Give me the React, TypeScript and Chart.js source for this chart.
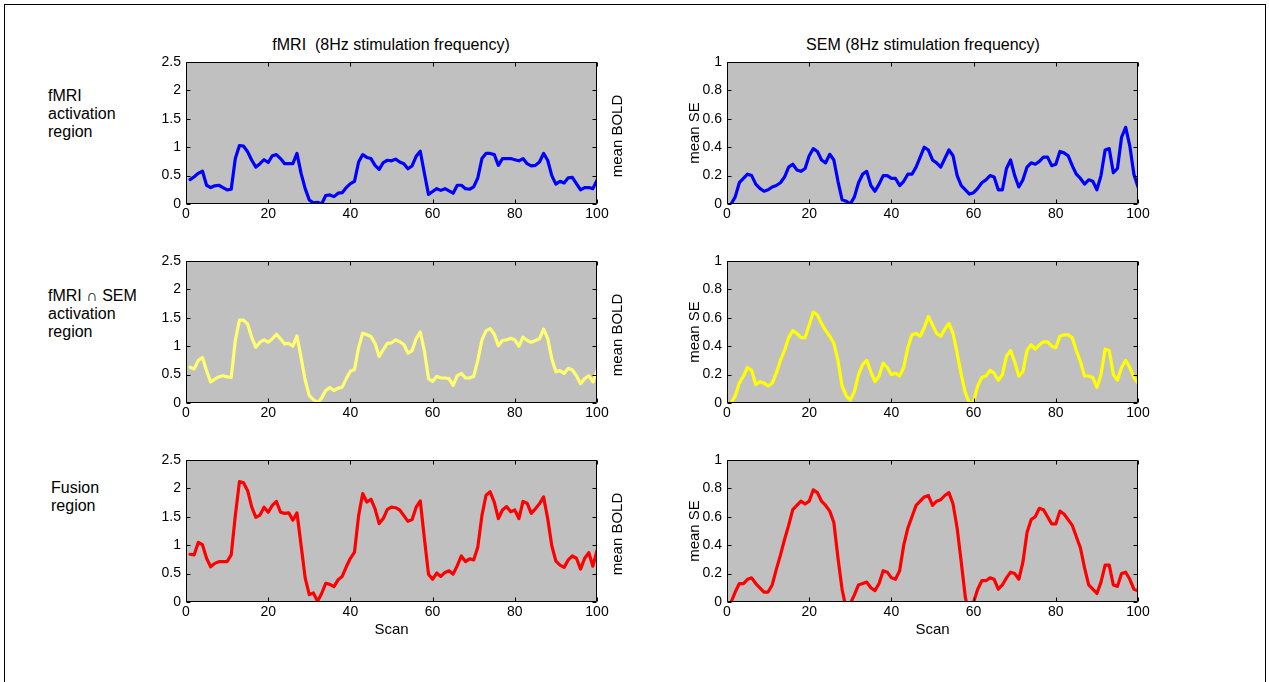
import { useEffect, useRef } from "react";
import { Chart, registerables } from "chart.js";

Chart.register(...registerables);

const FONT = "'Liberation Sans', Arial, Helvetica, sans-serif";

// Scan index (x axis categories)
const SCANS = Array.from({ length: 100 }, (_, i) => i + 1);

// Tick labels
const SCAN_TICKS = [0, 20, 40, 60, 80, 100];
const BOLD_TICKS = [0, 0.5, 1, 1.5, 2, 2.5];
const SE_TICKS = [0, 0.2, 0.4, 0.6, 0.8, 1];

// fMRI activation region
const FMRI_BOLD = [
  0.43, 0.48, 0.54, 0.58, 0.33, 0.29, 0.32, 0.33, 0.29, 0.25,
  0.26, 0.80, 1.03, 1.02, 0.92, 0.77, 0.65, 0.71, 0.78, 0.73,
  0.85, 0.87, 0.80, 0.71, 0.71, 0.71, 0.89, 0.54, 0.27, 0.07,
  0.02, 0.03, 0.00, 0.15, 0.16, 0.13, 0.19, 0.20, 0.29, 0.36,
  0.40, 0.74, 0.87, 0.82, 0.80, 0.68, 0.61, 0.73, 0.77, 0.76,
  0.79, 0.74, 0.71, 0.62, 0.67, 0.84, 0.93, 0.54, 0.17, 0.22,
  0.27, 0.24, 0.27, 0.23, 0.19, 0.33, 0.33, 0.27, 0.26, 0.30,
  0.46, 0.80, 0.89, 0.89, 0.87, 0.68, 0.80, 0.80, 0.80, 0.78,
  0.76, 0.80, 0.71, 0.67, 0.68, 0.74, 0.89, 0.77, 0.50, 0.35,
  0.40, 0.37, 0.46, 0.47, 0.36, 0.25, 0.29, 0.29, 0.27, 0.42,
];
const FMRI_SE = [
  0.00, 0.05, 0.15, 0.18, 0.21, 0.20, 0.14, 0.11, 0.09, 0.10,
  0.12, 0.13, 0.15, 0.19, 0.26, 0.28, 0.24, 0.23, 0.25, 0.34,
  0.39, 0.37, 0.31, 0.29, 0.35, 0.31, 0.16, 0.03, 0.02, 0.00,
  0.05, 0.15, 0.21, 0.23, 0.13, 0.09, 0.14, 0.20, 0.20, 0.18,
  0.18, 0.13, 0.16, 0.21, 0.21, 0.26, 0.33, 0.40, 0.38, 0.31,
  0.29, 0.26, 0.32, 0.38, 0.34, 0.20, 0.13, 0.10, 0.07, 0.08,
  0.11, 0.15, 0.17, 0.20, 0.19, 0.10, 0.10, 0.25, 0.31, 0.20,
  0.12, 0.17, 0.26, 0.29, 0.28, 0.30, 0.33, 0.33, 0.27, 0.28,
  0.37, 0.36, 0.34, 0.27, 0.21, 0.18, 0.14, 0.17, 0.16, 0.10,
  0.20, 0.38, 0.39, 0.22, 0.25, 0.47, 0.54, 0.41, 0.21, 0.12,
];

// fMRI ∩ SEM activation region
const INTER_BOLD = [
  0.63, 0.60, 0.75, 0.80, 0.57, 0.37, 0.42, 0.46, 0.48, 0.46,
  0.45, 1.10, 1.46, 1.46, 1.39, 1.15, 0.98, 1.07, 1.11, 1.07,
  1.13, 1.21, 1.13, 1.04, 1.05, 1.00, 1.18, 0.80, 0.40, 0.13,
  0.06, 0.00, 0.09, 0.22, 0.27, 0.22, 0.26, 0.28, 0.43, 0.56,
  0.59, 0.98, 1.23, 1.20, 1.17, 1.05, 0.82, 0.94, 1.05, 1.06,
  1.11, 1.08, 1.03, 0.88, 0.92, 1.13, 1.25, 0.92, 0.43, 0.38,
  0.47, 0.44, 0.44, 0.43, 0.31, 0.48, 0.52, 0.44, 0.44, 0.47,
  0.75, 1.11, 1.27, 1.31, 1.21, 1.01, 1.10, 1.11, 1.14, 1.11,
  1.00, 1.16, 1.10, 1.07, 1.10, 1.13, 1.30, 1.14, 0.78, 0.55,
  0.57, 0.52, 0.61, 0.58, 0.48, 0.34, 0.43, 0.48, 0.37, 0.56,
];
const INTER_SE = [
  0.00, 0.05, 0.14, 0.19, 0.25, 0.23, 0.13, 0.15, 0.14, 0.12,
  0.14, 0.21, 0.30, 0.37, 0.46, 0.51, 0.49, 0.46, 0.46, 0.55,
  0.64, 0.62, 0.56, 0.51, 0.47, 0.42, 0.30, 0.12, 0.05, 0.02,
  0.08, 0.20, 0.27, 0.30, 0.22, 0.15, 0.19, 0.28, 0.25, 0.20,
  0.21, 0.19, 0.25, 0.39, 0.48, 0.49, 0.47, 0.53, 0.61, 0.55,
  0.49, 0.47, 0.52, 0.56, 0.49, 0.35, 0.20, 0.07, 0.00, 0.01,
  0.12, 0.18, 0.19, 0.23, 0.21, 0.16, 0.20, 0.33, 0.37, 0.29,
  0.19, 0.22, 0.37, 0.41, 0.38, 0.41, 0.43, 0.43, 0.40, 0.39,
  0.47, 0.48, 0.48, 0.46, 0.37, 0.29, 0.19, 0.19, 0.18, 0.11,
  0.20, 0.38, 0.37, 0.20, 0.16, 0.25, 0.30, 0.25, 0.18, 0.14,
];

// Fusion region
const FUSION_BOLD = [
  0.84, 0.83, 1.05, 1.01, 0.77, 0.62, 0.68, 0.71, 0.71, 0.71,
  0.83, 1.52, 2.12, 2.10, 1.96, 1.67, 1.49, 1.53, 1.67, 1.58,
  1.70, 1.77, 1.58, 1.56, 1.57, 1.44, 1.57, 1.00, 0.42, 0.13,
  0.16, 0.01, 0.15, 0.33, 0.31, 0.27, 0.39, 0.45, 0.62, 0.77,
  0.88, 1.52, 1.91, 1.76, 1.81, 1.64, 1.38, 1.47, 1.63, 1.67,
  1.66, 1.62, 1.52, 1.42, 1.45, 1.67, 1.78, 1.12, 0.49, 0.40,
  0.51, 0.45, 0.52, 0.55, 0.49, 0.64, 0.81, 0.71, 0.76, 0.74,
  0.97, 1.52, 1.88, 1.94, 1.76, 1.47, 1.62, 1.68, 1.59, 1.62,
  1.47, 1.77, 1.74, 1.56, 1.64, 1.73, 1.85, 1.47, 0.99, 0.72,
  0.65, 0.61, 0.74, 0.81, 0.77, 0.58, 0.77, 0.87, 0.63, 0.91,
];
const FUSION_SE = [
  0.00, 0.07, 0.13, 0.13, 0.16, 0.17, 0.13, 0.10, 0.07, 0.07,
  0.12, 0.23, 0.33, 0.44, 0.54, 0.65, 0.68, 0.71, 0.69, 0.71,
  0.79, 0.77, 0.71, 0.68, 0.64, 0.56, 0.31, 0.09, -0.05, -0.01,
  0.05, 0.12, 0.13, 0.14, 0.10, 0.08, 0.13, 0.22, 0.21, 0.17,
  0.16, 0.22, 0.40, 0.52, 0.60, 0.68, 0.71, 0.74, 0.75, 0.68,
  0.71, 0.72, 0.75, 0.77, 0.69, 0.52, 0.28, 0.03, -0.09, 0.00,
  0.09, 0.15, 0.15, 0.17, 0.16, 0.09, 0.12, 0.17, 0.21, 0.20,
  0.16, 0.28, 0.49, 0.58, 0.60, 0.66, 0.65, 0.60, 0.55, 0.55,
  0.64, 0.62, 0.58, 0.54, 0.46, 0.38, 0.24, 0.12, 0.09, 0.06,
  0.14, 0.26, 0.26, 0.12, 0.11, 0.20, 0.21, 0.16, 0.09, 0.08,
];

// Gray axes background, black box and inward tick marks (MATLAB-like axes)
const axesBoxPlugin = {
  id: "axesBox",
  beforeDatasetsDraw(chart: any) {
    const { ctx, chartArea: a } = chart;
    ctx.save();
    ctx.fillStyle = "#c0c0c0";
    ctx.fillRect(a.left, a.top, a.right - a.left, a.bottom - a.top);
    ctx.restore();
  },
  afterDatasetsDraw(chart: any) {
    const { ctx, chartArea: a, scales } = chart;
    const L = Math.round(a.left) + 0.5;
    const R = Math.round(a.right) - 0.5;
    const T = Math.round(a.top) + 0.5;
    const B = Math.round(a.bottom) - 0.5;
    const len = 4;
    ctx.save();
    ctx.strokeStyle = "#000";
    ctx.lineWidth = 1;
    ctx.beginPath();
    ctx.rect(L, T, R - L, B - T);
    for (const t of scales.x.ticks) {
      const px = Math.round(scales.x.getPixelForValue(t.value)) + 0.5;
      ctx.moveTo(px, B);
      ctx.lineTo(px, B - len);
      ctx.moveTo(px, T);
      ctx.lineTo(px, T + len);
    }
    for (const t of scales.y.ticks) {
      const py = Math.round(scales.y.getPixelForValue(t.value)) + 0.5;
      ctx.moveTo(L, py);
      ctx.lineTo(L + len, py);
      ctx.moveTo(R, py);
      ctx.lineTo(R - len, py);
    }
    ctx.stroke();
    ctx.restore();
  },
};

type PanelProps = {
  left: number;
  top: number;
  width: number;
  height: number;
  values: number[];
  color: string;
  yTicks: number[];
  yTitle?: string;
  xTitle?: string;
  xHeight: number;
  padTop: number;
};

function Panel(p: PanelProps) {
  const ref = useRef<HTMLCanvasElement | null>(null);
  useEffect(() => {
    if (!ref.current) return;
    const tickFont = { family: FONT, size: 14 };
    const titleFont = { family: FONT, size: 15, lineHeight: 1.2 };
    const yMax = p.yTicks[p.yTicks.length - 1];
    const chart = new Chart(ref.current, {
      type: "line",
      data: {
        labels: SCANS,
        datasets: [
          {
            data: p.values,
            borderColor: p.color,
            borderWidth: 3.2,
            pointRadius: 0,
            tension: 0,
            clip: 0,
            borderJoinStyle: "round",
            borderCapStyle: "round",
          },
        ],
      },
      options: {
        animation: false,
        responsive: false,
        maintainAspectRatio: false,
        events: [],
        layout: { padding: { top: p.padTop, right: 16, bottom: 0, left: 0 } },
        plugins: { legend: { display: false }, tooltip: { enabled: false } },
        scales: {
          x: {
            type: "linear",
            min: 0,
            max: 100,
            grid: { display: false, drawTicks: false },
            border: { display: false },
            afterBuildTicks: (s: any) => {
              s.ticks = SCAN_TICKS.map((v) => ({ value: v }));
            },
            ticks: {
              font: tickFont,
              color: "#000",
              padding: 2,
              maxRotation: 0,
              autoSkip: false,
              callback: (v: any) => String(v),
            },
            title: {
              display: !!p.xTitle,
              text: p.xTitle || "",
              font: titleFont,
              color: "#000",
              padding: { top: 0, bottom: 0 },
            },
            afterFit: (s: any) => {
              s.height = p.xHeight;
            },
          },
          y: {
            type: "linear",
            min: 0,
            max: yMax,
            grid: { display: false, drawTicks: false },
            border: { display: false },
            afterBuildTicks: (s: any) => {
              s.ticks = p.yTicks.map((v) => ({ value: v }));
            },
            ticks: {
              font: tickFont,
              color: "#000",
              padding: 5,
              autoSkip: false,
              callback: (v: any) => String(v),
            },
            title: {
              display: !!p.yTitle,
              text: p.yTitle || "",
              font: titleFont,
              color: "#000",
              padding: { top: 19, bottom: 0 },
            },
            afterFit: (s: any) => {
              s.width = 60;
            },
          },
        },
      },
      plugins: [axesBoxPlugin],
    } as any);
    return () => chart.destroy();
  }, []);
  return (
    <canvas
      ref={ref}
      width={p.width}
      height={p.height}
      style={{
        position: "absolute",
        left: p.left,
        top: p.top,
        width: p.width,
        height: p.height,
      }}
    />
  );
}

const textStyle = {
  position: "absolute" as const,
  fontFamily: FONT,
  fontSize: 16,
  lineHeight: "18px",
  color: "#000",
  whiteSpace: "pre" as const,
};

function RowLabel({ left, top, lines }: { left: number; top: number; lines: string[] }) {
  return (
    <div style={{ ...textStyle, left, top }}>
      {lines.map((l, i) => (
        <div key={i}>{l}</div>
      ))}
    </div>
  );
}

function SideLabel({ x, y, text }: { x: number; y: number; text: string }) {
  return (
    <div
      style={{
        ...textStyle,
        fontSize: 15,
        left: x,
        top: y,
        transform: "translate(-50%, -50%) rotate(-90deg)",
      }}
    >
      {text}
    </div>
  );
}

function ColumnTitle({ x, y, text }: { x: number; y: number; text: string }) {
  return (
    <div
      style={{
        ...textStyle,
        left: x - 200,
        top: y - 9,
        width: 400,
        textAlign: "center",
      }}
    >
      {text}
    </div>
  );
}

const LEFT_COL = 126;
const RIGHT_COL = 667;
const CANVAS_W = 487;

export default function App() {
  return (
    <div
      style={{
        position: "fixed",
        left: 0,
        top: 0,
        width: 1269,
        height: 682,
        overflow: "hidden",
        background: "#fff",
      }}
    >
      <div
        style={{
          position: "absolute",
          left: 4,
          top: 4,
          width: 1260,
          height: 720,
          border: "1px solid #000",
          borderBottom: "none",
        }}
      />
      <ColumnTitle x={391} y={45} text="fMRI  (8Hz stimulation frequency)" />
      <ColumnTitle x={923} y={45} text="SEM (8Hz stimulation frequency)" />

      <RowLabel left={48} top={87} lines={["fMRI", "activation", "region"]} />
      <RowLabel left={48} top={287} lines={["fMRI \u2229 SEM", "activation", "region"]} />
      <RowLabel left={51} top={479} lines={["Fusion", "region"]} />

      <Panel left={LEFT_COL} top={48} width={CANVAS_W} height={180} values={FMRI_BOLD}
        color="#0000ff" yTicks={BOLD_TICKS} xHeight={24} padTop={14} />
      <Panel left={RIGHT_COL} top={48} width={CANVAS_W} height={180} values={FMRI_SE}
        color="#0000ff" yTicks={SE_TICKS} yTitle="mean SE" xHeight={24} padTop={14} />

      <Panel left={LEFT_COL} top={247} width={CANVAS_W} height={180} values={INTER_BOLD}
        color="#ffff70" yTicks={BOLD_TICKS} xHeight={24} padTop={14} />
      <Panel left={RIGHT_COL} top={247} width={CANVAS_W} height={180} values={INTER_SE}
        color="#ffff00" yTicks={SE_TICKS} yTitle="mean SE" xHeight={24} padTop={14} />

      <Panel left={LEFT_COL} top={446} width={CANVAS_W} height={193} values={FUSION_BOLD}
        color="#ff0000" yTicks={BOLD_TICKS} xTitle="Scan" xHeight={37} padTop={14} />
      <Panel left={RIGHT_COL} top={446} width={CANVAS_W} height={193} values={FUSION_SE}
        color="#ff0000" yTicks={SE_TICKS} yTitle="mean SE" xTitle="Scan" xHeight={37} padTop={14} />

      <SideLabel x={617} y={136} text="mean BOLD" />
      <SideLabel x={617} y={335} text="mean BOLD" />
      <SideLabel x={617} y={534} text="mean BOLD" />
    </div>
  );
}
